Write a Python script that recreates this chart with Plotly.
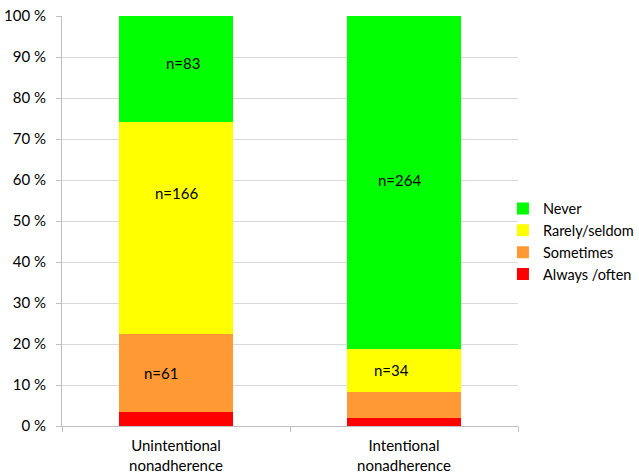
import plotly.graph_objects as go

categories = ["Unintentional<br>nonadherence", "Intentional<br>nonadherence"]
series_names = ["Always /often", "Sometimes", "Rarely/seldom", "Never"]
always = [11, 6]
sometimes = [61, 21]
rarely = [166, 34]
never = [83, 264]
colors = ["#ff0000", "#ff9933", "#ffff00", "#00ff00"]
# which counts are labelled in the chart (category index, series index)
labelled = [(0, 3), (0, 2), (0, 1), (1, 3), (1, 2)]

series = [always, sometimes, rarely, never]
font = "Lato, 'Open Sans', sans-serif"

fig = go.Figure()
for name, vals, col in zip(series_names, series, colors):
    fig.add_trace(go.Bar(x=categories, y=vals, name=name, marker=dict(color=col, line=dict(width=0)),
                         width=0.5))

totals = [sum(s[i] for s in series) for i in range(len(categories))]
label_shift = {(0, 3): (7, 6), (0, 2): (0, 35), (0, 1): (-15, 0), (1, 3): (-5, 3), (1, 2): (-13, 0)}
for ci, si in labelled:
    base = sum(series[k][ci] for k in range(si)) / totals[ci] * 100
    mid = base + series[si][ci] / totals[ci] * 50
    dx, dy = label_shift[(ci, si)]
    fig.add_annotation(x=categories[ci], y=mid, text=f"n={series[si][ci]}", showarrow=False,
                       xshift=dx, yshift=dy, font=dict(family=font, size=15, color="#000000"))

fig.update_layout(
    barmode="stack", barnorm="percent", width=639, height=475,
    margin=dict(l=62, r=121, t=16, b=49, autoexpand=False), plot_bgcolor="white", paper_bgcolor="white",
    font=dict(family=font, size=15, color="#000000"),
    legend=dict(x=0.967, y=0.45, xanchor="left", yanchor="middle", traceorder="reversed",
                font=dict(size=14.5), itemwidth=30, tracegroupgap=0, bgcolor="rgba(0,0,0,0)"),
    bargap=0.5,
)
fig.update_yaxes(range=[0, 100], dtick=10, ticksuffix=" %", showgrid=True, gridcolor="#d9d9d9",
                 showline=True, linecolor="#bfbfbf", ticks="outside", ticklen=5, tickcolor="#bfbfbf",
                 zeroline=False, automargin=False, ticklabelstandoff=7, ticklabeloverflow="allow")
fig.update_xaxes(showline=True, linecolor="#bfbfbf", ticks="outside", ticklen=5, tickcolor="#bfbfbf",
                 tickson="boundaries", automargin=False, ticklabelstandoff=6)
fig.write_html("out.html", config={"displayModeBar": False},
               post_script="document.body.style.margin='0';")
